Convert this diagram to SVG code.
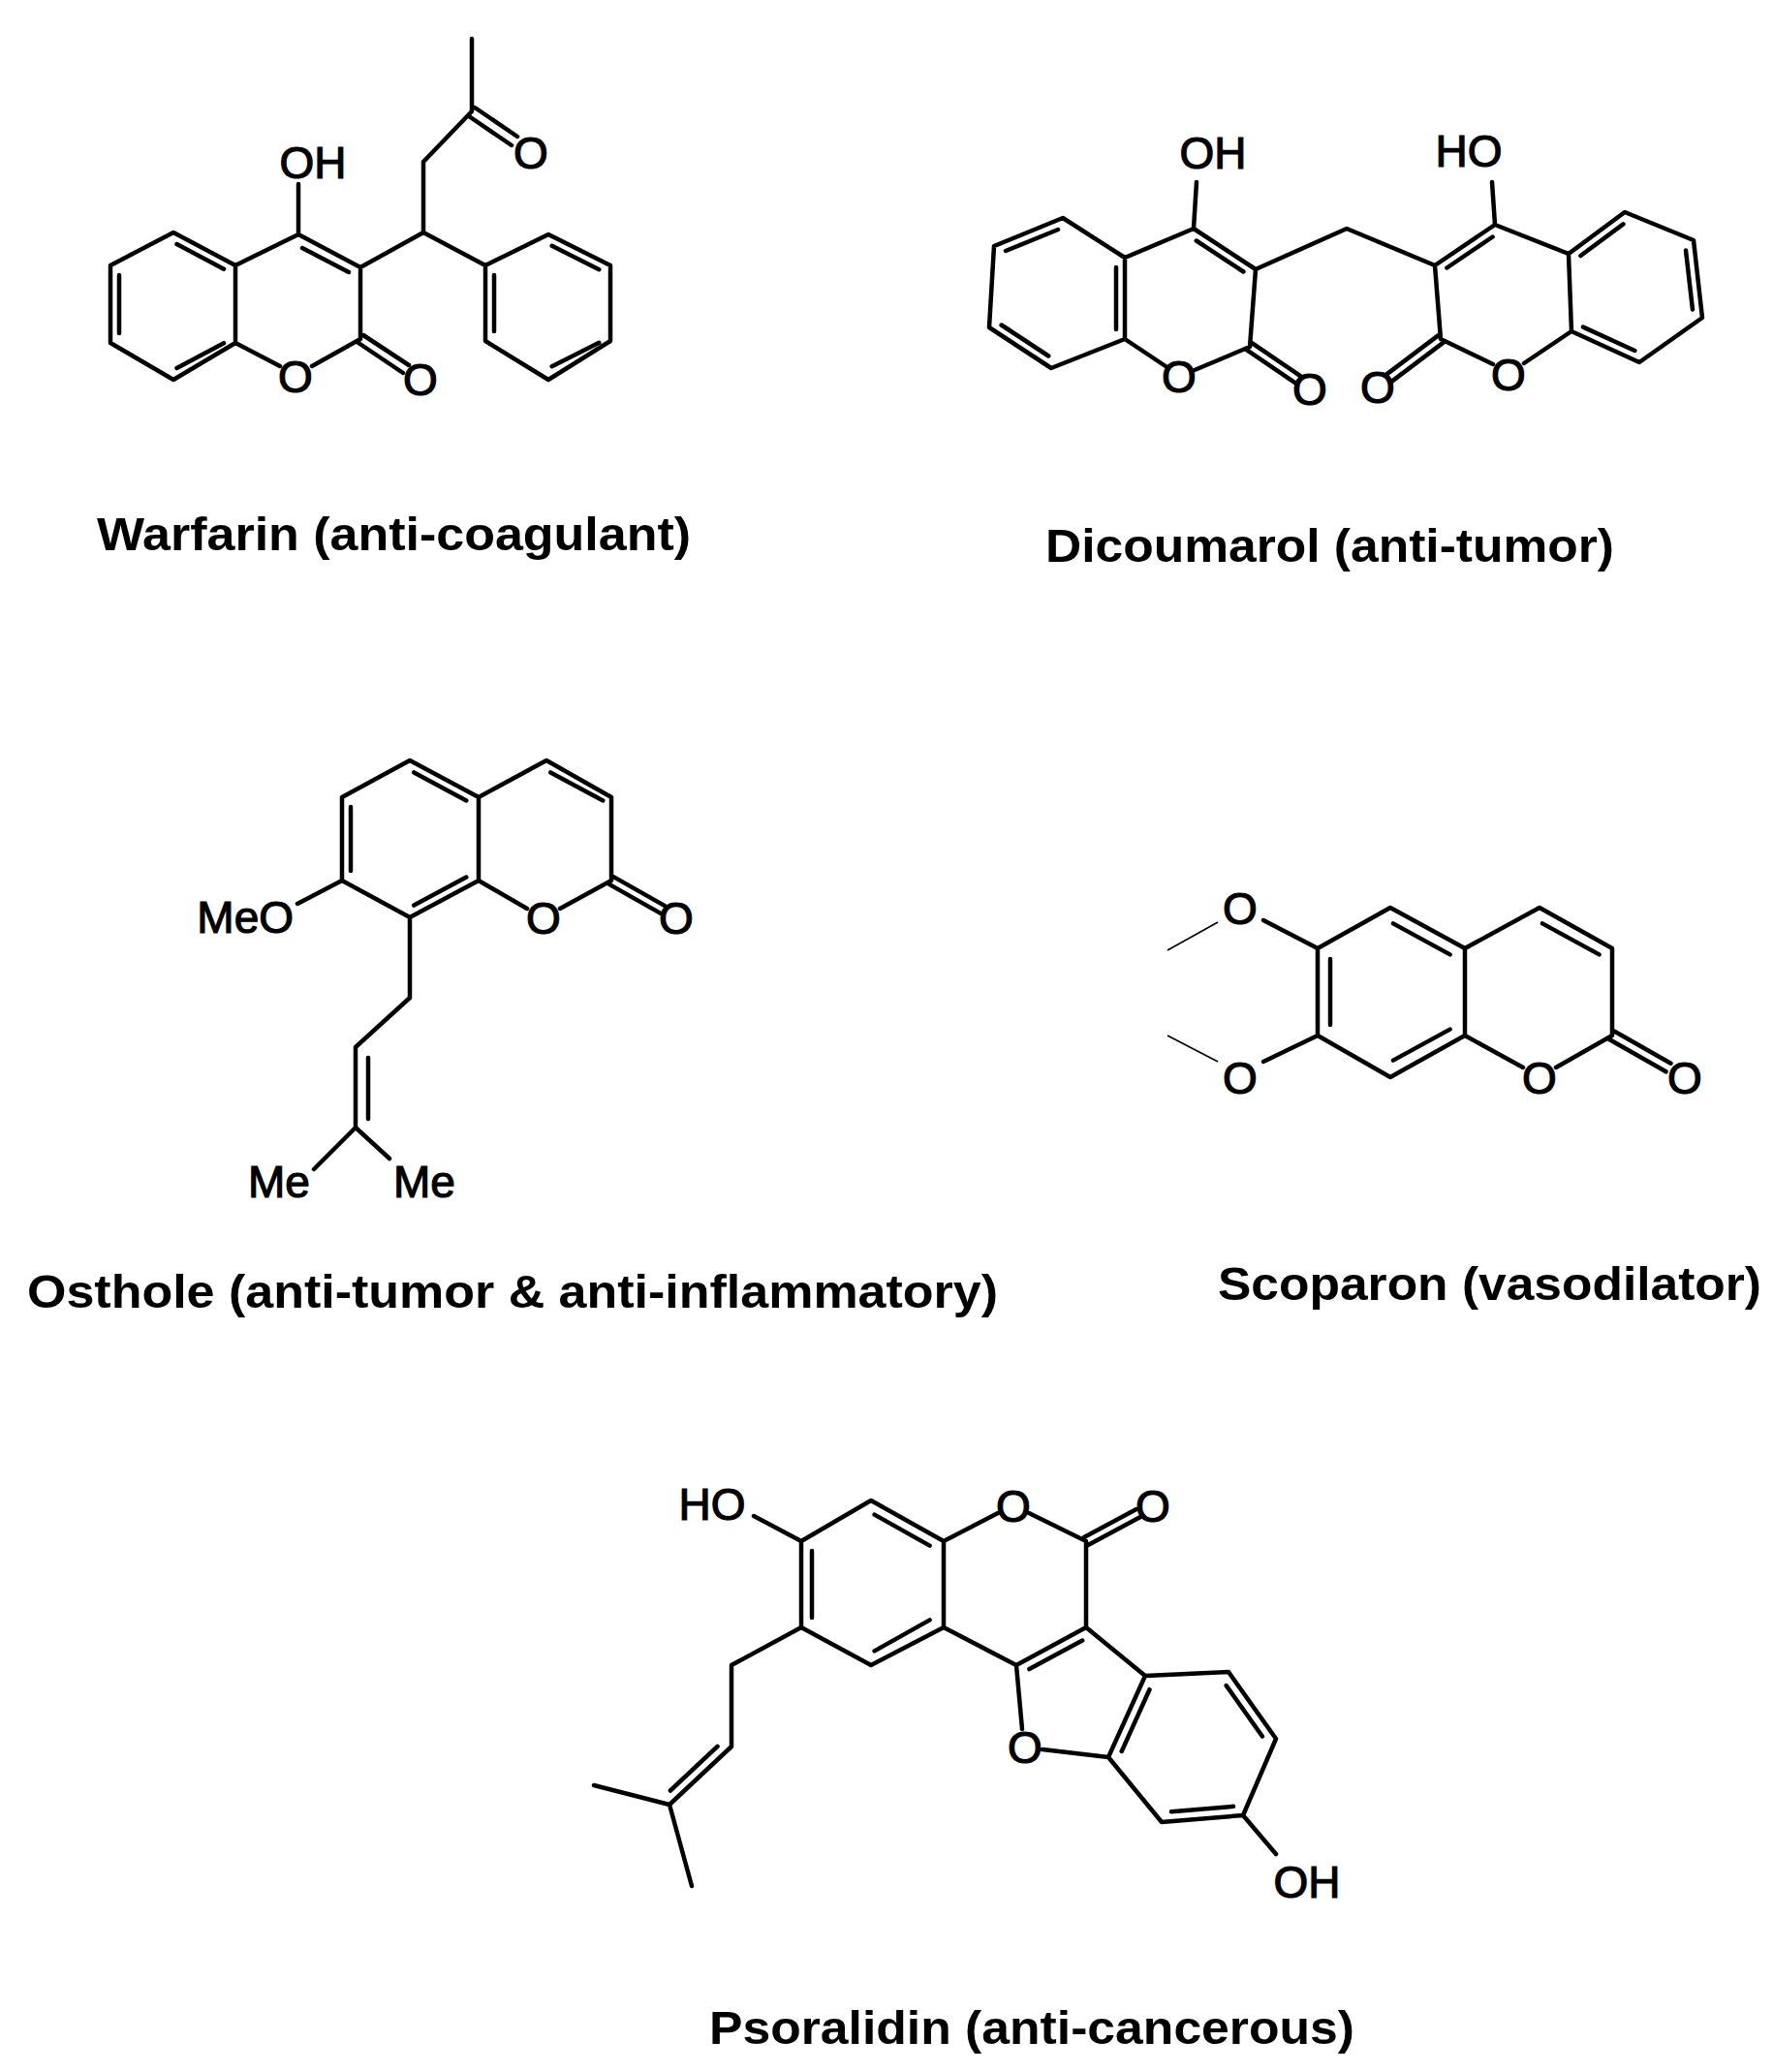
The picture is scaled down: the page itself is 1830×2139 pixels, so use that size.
<svg xmlns="http://www.w3.org/2000/svg" width="1830" height="2139" viewBox="0 0 1830 2139">
<style>
.b{stroke:#000;stroke-width:4.5;fill:none;stroke-linecap:round;stroke-linejoin:round}
.t{stroke:#000;stroke-width:1.6;fill:none}
.a{font-family:"Liberation Sans",Arial,sans-serif;font-size:46px;text-anchor:middle;fill:#000;stroke:#000;stroke-width:1.2}
.c{font-family:"Liberation Sans",Arial,sans-serif;font-size:48px;font-weight:bold;fill:#000}
</style>
<rect width="1830" height="2139" fill="#fff"/>
<g id="warfarin">
<path class="b" d="M179,240 L114,274 L114,354 L179,392 L243,354 L243,274 Z M182.5,252 L231,277.8 M123,284 L123,344 M182.5,380 L231,354.2 M243,274 L308,242 L372,276 L372,350 L322,378 M243,354 L289,378 M312,256 L360,281 M308,242 L308,190 M370,354 L416,385 M375,346 L422,377 M372,276 L437,240 L501,274 M437,240 L437,167 L487,115 L487,40 M490,111 L534,141 M484,120 L528,150 M501,274 L566,242 L630,274 L630,352 L566,392 L501,352 Z M510,284 L510,342 M569.7,253.8 L618.3,278.2 M569.7,378.2 L618.3,353.8"/>
<text class="a" x="323" y="184">OH</text>
<text class="a" x="305" y="405">O</text>
<text class="a" x="434" y="408">O</text>
<text class="a" x="548" y="174">O</text>
<text class="c" x="100" y="568" textLength="613" lengthAdjust="spacingAndGlyphs">Warfarin (anti-coagulant)</text>
</g>
<g id="dicoumarol">
<path class="b" d="M1097,225 L1026,254 L1021,338 L1085,380 L1161,350 L1161,266 Z M1092,237 L1038,259 M1033.6,335.5 L1082.2,367.5 M1152,276 L1152,340 M1161,266 L1232,236 L1296,278 L1290,358 L1233,382 M1161,350 L1203,378 M1234.8,248.5 L1283.4,280.5 M1287.4,361.7 L1337.4,395.7 M1292.6,354.3 L1342.6,388.3 M1232,236 L1235,188 M1296,278 L1390,236 L1481,274 L1543,232 L1619,262 L1622,342 L1573,375 M1541,376 L1487,350 L1481,274 M1493.4,276.5 L1540.6,244.5 M1489.7,353.6 L1436.7,393.6 M1484.3,346.4 L1431.3,386.4 M1543,232 L1540,188 M1619,262 L1677,219 L1748,248 L1757,328 L1692,374 L1622,342 M1631.4,264 L1675.4,231.4 M1740,258.6 L1747,319.4 M1634,337.6 L1687.3,362"/>
<text class="a" x="1252" y="174">OH</text>
<text class="a" x="1217" y="405">O</text>
<text class="a" x="1352" y="418">O</text>
<text class="a" x="1516" y="172">HO</text>
<text class="a" x="1557" y="403">O</text>
<text class="a" x="1422" y="416">O</text>
<text class="c" x="1079" y="580" textLength="587" lengthAdjust="spacingAndGlyphs">Dicoumarol (anti-tumor)</text>
</g>
<g id="osthole">
<path class="b" d="M423,785 L494,823 L494,909 L423,947 L353,909 L353,823 Z M427.3,797.4 L481.3,826.4 M362,833 L362,899 M427.3,934.6 L481.3,905.6 M494,823 L564,785 L631,823 L631,909 L578,938 M494,909 L544,938 M568.3,797.4 L622.3,826.4 M628.8,912.9 L681.8,942.9 M633.2,905.1 L686.2,935.1 M353,909 L307,933 M423,947 L423,1030 L367,1081 L367,1164 L324,1207 M367,1164 L402,1196 M380,1092 L380,1155"/>
<text class="a" x="303" y="963" style="text-anchor:end">MeO</text>
<text class="a" x="561" y="964">O</text>
<text class="a" x="698" y="964">O</text>
<text class="a" x="288" y="1236">Me</text>
<text class="a" x="438" y="1236">Me</text>
<text class="c" x="28" y="1350" textLength="1002" lengthAdjust="spacingAndGlyphs">Osthole (anti-tumor &amp; anti-inflammatory)</text>
</g>
<g id="scoparon">
<path class="b" d="M1435,937 L1512,979 L1512,1069 L1435,1112 L1360,1069 L1360,979 Z M1438,953.4 L1496.6,985.4 M1373,990 L1373,1058 M1438,1094.6 L1496.6,1062.6 M1512,979 L1589,937 L1664,979 L1664,1069 L1606,1102 M1512,1069 L1572,1102 M1592,953.4 L1650.6,985.4 M1661.5,1073.3 L1719.5,1106.3 M1666.5,1064.7 L1724.5,1097.7 M1360,979 L1304,950 M1360,1069 L1304,1096"/>
<path class="t" d="M1257,952 L1205,981 M1257,1096 L1205,1069"/>
<text class="a" x="1280" y="954">O</text>
<text class="a" x="1280" y="1129">O</text>
<text class="a" x="1589" y="1129">O</text>
<text class="a" x="1739" y="1129">O</text>
<text class="c" x="1257" y="1342" textLength="561" lengthAdjust="spacingAndGlyphs">Scoparon (vasodilator)</text>
</g>
<g id="psoralidin">
<path class="b" d="M899,1549 L974,1591 L974,1680 L899,1719 L827,1680 L827,1591 Z M902.6,1563.6 L959.6,1595.6 M838,1601 L838,1670 M902.6,1704.4 L959.6,1672.4 M827,1591 L778,1565 M974,1591 L1030,1562 M1062,1562 L1121,1591 L1121,1680 L1049,1719 L974,1680 M1123.1,1595 L1177.1,1566 M1118.9,1587 L1172.9,1558 M1062.4,1723.1 L1117.2,1693.5 M1049,1719 L1055,1785 M1076,1806 L1144,1814 M1121,1680 L1182,1730 M1182,1730 L1268,1726 L1317,1795 L1283,1874 L1199,1881 L1144,1814 Z M1157.7,1808 L1186.5,1744.2 M1265.7,1740.1 L1302.9,1792.5 M1273,1864.8 L1209,1870.2 M1283,1874 L1317,1914 M827,1680 L755,1719 L755,1803 L691,1863 L613,1843 M691,1863 L714,1947 M740.5,1802.9 L691.9,1848.5"/>
<text class="a" x="735" y="1569">HO</text>
<text class="a" x="1046" y="1571">O</text>
<text class="a" x="1190" y="1571">O</text>
<text class="a" x="1058" y="1820">O</text>
<text class="a" x="1349" y="1959">OH</text>
<text class="c" x="732" y="2110" textLength="666" lengthAdjust="spacingAndGlyphs">Psoralidin (anti-cancerous)</text>
</g>
<g id="connectors"/>
</svg>
